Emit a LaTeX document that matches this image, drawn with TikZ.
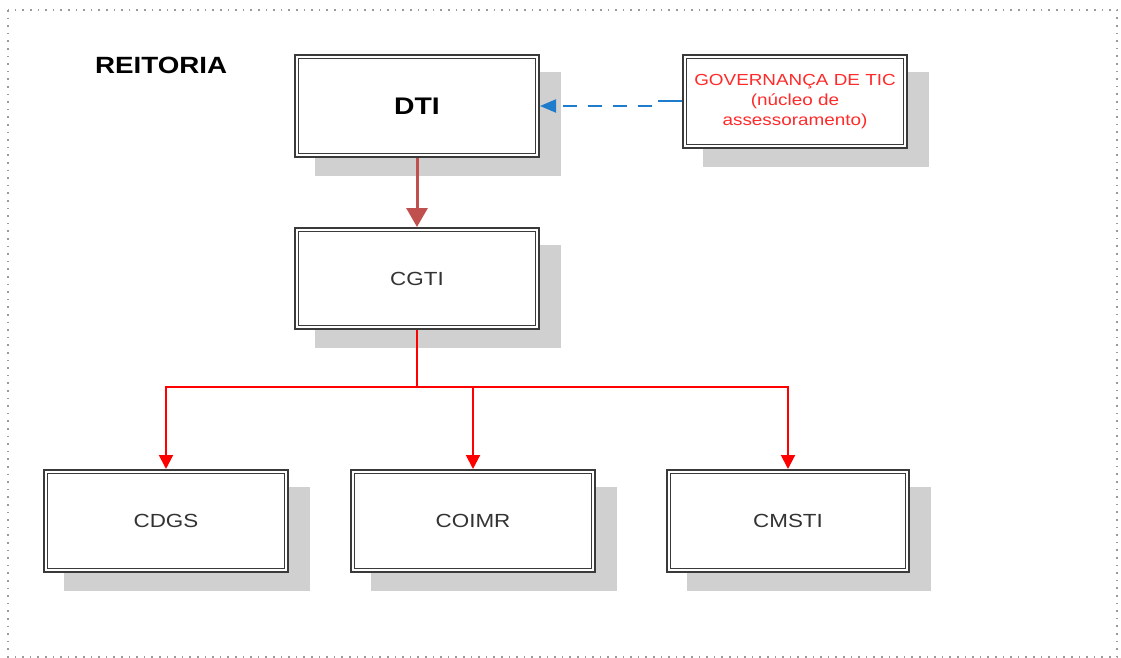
\documentclass[tikz,border=0pt]{standalone}
\usepackage{fontspec}
\setmainfont{Liberation Sans}
\newfontfamily\wsans[FakeStretch=1.18]{Liberation Sans}
\usetikzlibrary{arrows.meta,backgrounds}

\definecolor{shadowgray}{HTML}{D0D0D0}
\definecolor{framegray}{HTML}{3A3A3A}
\definecolor{brownred}{HTML}{C0504D}
\definecolor{linkblue}{HTML}{1F7BCB}
\definecolor{govred}{HTML}{FF2A2A}
\definecolor{dotgray}{HTML}{9A9A9A}
\definecolor{labelgray}{HTML}{333333}

\begin{document}
\begin{tikzpicture}[x=1pt,y=-1pt,
  unit/.style={draw=framegray, line width=1.8pt, double=white, double distance=1.8pt,
    fill=white, inner sep=0pt, outer sep=2.7pt, align=center,
    minimum width=240.6pt, minimum height=98.6pt,
    font=\wsans\fontsize{19}{22}\selectfont, text=labelgray},
  topunit/.style={unit, font=\wsans\bfseries\fontsize{24}{28}\selectfont, text=black},
  advisory/.style={unit, minimum width=220.6pt, minimum height=89.6pt,
    font=\wsans\fontsize{16}{20}\selectfont, text=govred},
  boxshadow/.style={fill=shadowgray},
  feed/.style={brownred, line width=3pt, -{Triangle[width=21pt,length=19pt]}},
  advice/.style={linkblue, line width=2pt, dash pattern=on 14pt off 11pt, dash phase=14pt,
    -{Triangle[width=13pt,length=16pt]}},
  branch/.style={red, line width=2pt, -{Triangle[width=14pt,length=14pt]}},
]
\useasboundingbox (0,0) rectangle (1121,658);

% dotted page frame
\draw[dotgray, line width=1.6pt, dash pattern=on 1.6pt off 6pt] (8,10) rectangle (1117,657);

% title
\node[anchor=base west, inner sep=0pt, font=\wsans\bfseries\fontsize{23.5}{28}\selectfont]
  (title) at (95,74) {REITORIA};

% units
\node[topunit] (dti) at (417,106) {DTI};
\node[advisory] (gov) at (795,101.5) {GOVERNANÇA DE TIC\\(núcleo de\\assessoramento)};
\node[unit, minimum height=97.6pt] (cgti) at (417,278.5) {CGTI};
\node[unit] (cdgs) at (166,521) {CDGS};
\node[unit] (coimr) at (473,521) {COIMR};
\node[unit, minimum width=238.6pt] (cmsti) at (788,521) {CMSTI};

% drop shadows behind the units
\begin{scope}[on background layer]
  \foreach \n in {dti,gov,cgti,cdgs,coimr,cmsti}
    \fill[boxshadow] ([shift={(20.5,18)}]\n.north west) rectangle ([shift={(20.5,18)}]\n.south east);
\end{scope}

% DTI -> CGTI
\draw[feed] (dti.south) -- (cgti.south |- cgti.north);

% advisory link: solid lead-out, then dashed with a small jog
\draw[linkblue, line width=2pt] (gov.west) -- ++(-24,0) coordinate (j);
\draw[advice] (j) -- ++(-4,0) |- (dti.east);

% CGTI branches
\coordinate (hub) at ([yshift=-57pt]cgti.south);
\draw[red, line width=2pt] (cgti.south) -- (hub);
\draw[branch] (hub) -| (cdgs.north);
\draw[branch] (hub) -| (coimr.north);
\draw[branch] (hub) -| (cmsti.north);
\end{tikzpicture}
\end{document}
